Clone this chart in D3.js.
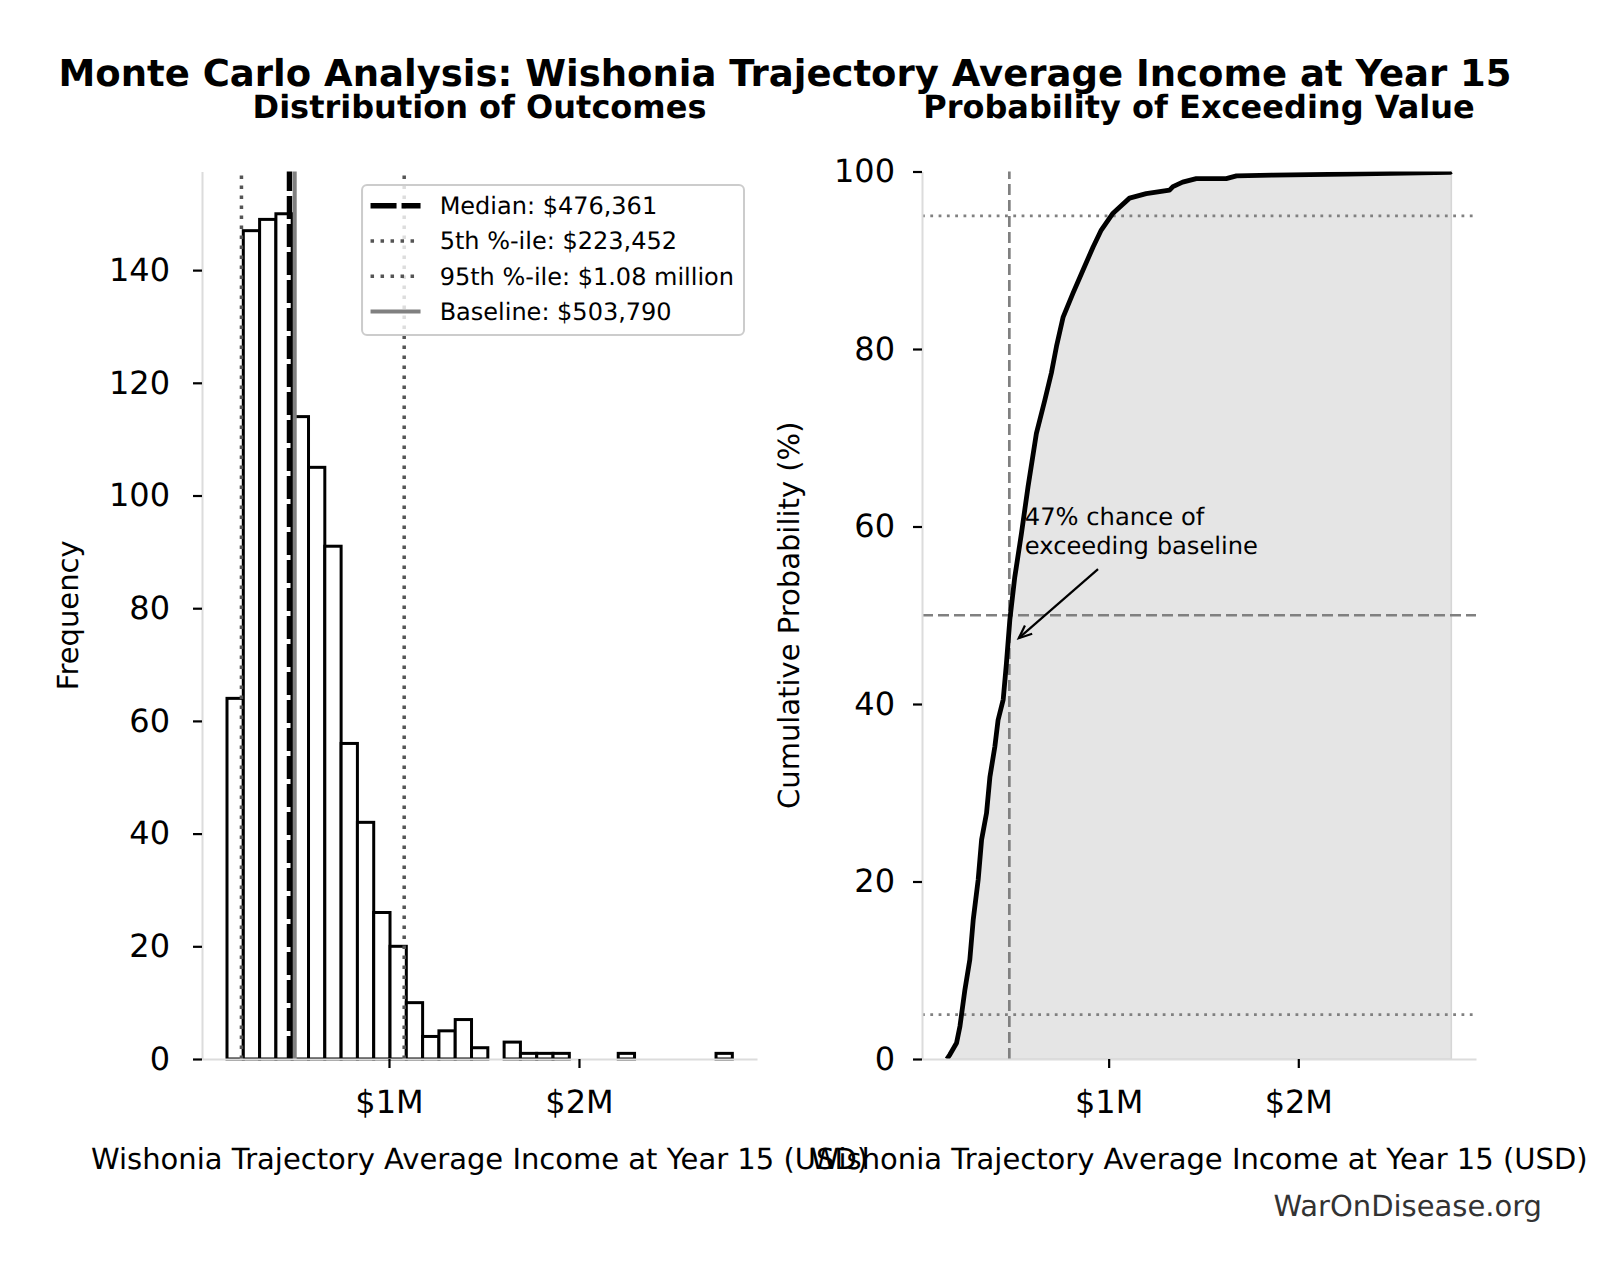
<!DOCTYPE html>
<html>
<head>
<meta charset="utf-8">
<script src="https://cdn.jsdelivr.net/npm/d3@7"></script>
<style>
	body { margin: 0; background: #fff; }
	text { font-family: 'DejaVu Sans', sans-serif; }
</style>
</head>
<body>
<div id="chart"></div>
<script>
// Histogram: equal-width bins (income in $ millions)
var binStart = 0.1474,
	binWidth = 0.0858;
var binCounts = [64, 147, 149, 150, 114, 105, 91, 56, 42, 26, 20, 10, 4, 5, 7, 2, 0, 3, 1, 1, 1, 0, 0, 0, 1, 0, 0, 0, 0, 0, 1];

// Reference values ($ millions)
var medianValue = 0.476361,
	p5Value = 0.223452,
	p95Value = 1.08,
	baselineValue = 0.503790;
var legendLabels = ['Median: $476,361', '5th %-ile: $223,452', '95th %-ile: $1.08 million', 'Baseline: $503,790'];

// Cumulative curve
var cdfIncome = [0.147, 0.163, 0.198, 0.216, 0.242, 0.268, 0.286, 0.312, 0.330, 0.356, 0.374, 0.400, 0.417, 0.444, 0.461, 0.479, 0.505, 0.540, 0.575, 0.619, 0.663, 0.698, 0.725, 0.760, 0.812, 0.865, 0.918, 0.961, 1.023, 1.110, 1.198, 1.321, 1.339, 1.390, 1.462, 1.620, 1.674, 1.867, 2.255, 2.800, 2.807];
var cdfPercent = [0, 0.5, 1.8, 3.7, 7.8, 11.2, 15.7, 20.2, 24.7, 27.7, 31.8, 35.2, 38.2, 40.5, 44.6, 49.5, 54.3, 59.2, 64.5, 70.5, 74.2, 77.3, 80.3, 83.6, 86.3, 88.9, 91.5, 93.4, 95.3, 97.0, 97.5, 97.9, 98.3, 98.8, 99.2, 99.2, 99.5, 99.6, 99.7, 99.9, 100];

// Ticks
var xTickValues = [1, 2],
	xTickLabels = ['$1M', '$2M'];
var freqTicks = [0, 20, 40, 60, 80, 100, 120, 140];
var probTicks = [0, 20, 40, 60, 80, 100];

// Annotation
var annotationLines = ['47% chance of', 'exceeding baseline'];
var annotationText = [0.558, 60.2],
	annotationTail = [0.944, 55.2],
	annotationHead = [baselineValue, 47];

var titleText = 'Monte Carlo Analysis: Wishonia Trajectory Average Income at Year 15',
	leftTitle = 'Distribution of Outcomes',
	rightTitle = 'Probability of Exceeding Value',
	xLabel = 'Wishonia Trajectory Average Income at Year 15 (USD)',
	footer = 'WarOnDisease.org';

var spineColor = '#dcdcdc',
	refGray = '#808080',
	dotGray = '#555555',
	fillGray = '#e5e5e5';

var W = 1601, H = 1280;
var plotTop = 171.5, plotBottom = 1059;
var xDomain = [0.0158, 2.937];

var svg = d3.select('#chart').append('svg')
	.attr('width', W)
	.attr('height', H)
	.attr('text-rendering', 'geometricPrecision');

svg.append('rect').attr('width', W).attr('height', H).attr('fill', '#fff');

// Titles
svg.append('text')
	.attr('x', 785).attr('y', 86)
	.attr('text-anchor', 'middle')
	.attr('font-size', '37px').attr('font-weight', 'bold')
	.text(titleText);

// ---------- left panel: histogram ----------
var xL = d3.scaleLinear().domain(xDomain).range([202, 757]);
var yL = d3.scaleLinear().domain([0, 157.5]).range([plotBottom, plotTop]);

function styleAxis(g) {
	g.select('.domain').attr('stroke', spineColor).attr('stroke-width', 2);
	g.selectAll('.tick line').attr('stroke', '#000').attr('stroke-width', 2.2);
	g.selectAll('.tick text').attr('fill', '#000').attr('font-size', '32px')
		.attr('font-family', "'DejaVu Sans', sans-serif");
}

function drawAxes(x, y, yTicks, panel, yPad) {
	var gx = panel.append('g')
		.attr('transform', 'translate(0,' + plotBottom + ')')
		.call(d3.axisBottom(x).tickValues(xTickValues).tickSize(9).tickSizeOuter(0).tickPadding(22)
			.tickFormat(function(d, i) { return xTickLabels[i]; }));
	styleAxis(gx);
	var gy = panel.append('g')
		.attr('transform', 'translate(' + x.range()[0] + ',0)')
		.call(d3.axisLeft(y).tickValues(yTicks).tickSize(9).tickSizeOuter(0).tickPadding(yPad)
			.tickFormat(d3.format('d')));
	styleAxis(gy);
}

var left = svg.append('g');
var bins = binCounts.map(function(c, i) {
	return {x0: binStart + i * binWidth, x1: binStart + (i + 1) * binWidth, count: c};
});
left.selectAll('rect.bar')
	.data(bins.filter(function(b) { return b.count > 0; }))
	.enter().append('rect')
	.attr('class', 'bar')
	.attr('x', function(d) { return xL(d.x0); })
	.attr('width', function(d) { return xL(d.x1) - xL(d.x0); })
	.attr('y', function(d) { return yL(d.count); })
	.attr('height', function(d) { return yL(0) - yL(d.count); })
	.attr('fill', '#fff')
	.attr('stroke', '#000')
	.attr('stroke-width', 3);

var refLines = [
	{v: medianValue, stroke: '#000', width: 5.5, dash: '23,5'},
	{v: p5Value, stroke: dotGray, width: 3.5, dash: '3.5,6.5'},
	{v: p95Value, stroke: dotGray, width: 3.5, dash: '3.5,6.5'},
	{v: baselineValue, stroke: refGray, width: 4, dash: null}
];
left.selectAll('line.ref')
	.data(refLines)
	.enter().append('line')
	.attr('class', 'ref')
	.attr('x1', function(d) { return xL(d.v); })
	.attr('x2', function(d) { return xL(d.v); })
	.attr('y1', yL(0)).attr('y2', yL(157.5))
	.attr('stroke', function(d) { return d.stroke; })
	.attr('stroke-width', function(d) { return d.width; })
	.attr('stroke-dasharray', function(d) { return d.dash; });

drawAxes(xL, yL, freqTicks, left, 23);

// Legend
var legend = left.append('g');
var legendBox = legend.append('rect')
	.attr('rx', 5)
	.attr('fill', '#fff').attr('fill-opacity', 0.8)
	.attr('stroke', '#cccccc').attr('stroke-width', 2);
var legendTexts = legend.selectAll('text')
	.data(legendLabels)
	.enter().append('text')
	.attr('x', 77.6)
	.attr('y', function(d, i) { return 20.7 + i * 35.3; })
	.attr('dy', '0.35em')
	.attr('font-size', '24px')
	.text(function(d) { return d; });
legend.selectAll('line')
	.data(refLines)
	.enter().append('line')
	.attr('x1', 8.5).attr('x2', 58.5)
	.attr('y1', function(d, i) { return 20.7 + i * 35.3; })
	.attr('y2', function(d, i) { return 20.7 + i * 35.3; })
	.attr('stroke', function(d) { return d.stroke; })
	.attr('stroke-width', function(d) { return d.width; })
	.attr('stroke-dasharray', function(d, i) { return i === 0 ? '26,5' : d.dash; });
var maxW = 0;
legendTexts.each(function() { maxW = Math.max(maxW, this.getComputedTextLength()); });
var boxW = 77.6 + maxW + 10, boxH = 150;
legendBox.attr('width', boxW).attr('height', boxH);
legend.attr('transform', 'translate(' + (xL.range()[1] - 13 - boxW) + ',' + (plotTop + 13.5) + ')');

left.append('text')
	.attr('x', (xL.range()[0] + xL.range()[1]) / 2).attr('y', 118)
	.attr('text-anchor', 'middle').attr('font-size', '32px').attr('font-weight', 'bold')
	.text(leftTitle);
left.append('text')
	.attr('x', (xL.range()[0] + xL.range()[1]) / 2).attr('y', 1169)
	.attr('text-anchor', 'middle').attr('font-size', '29px')
	.text(xLabel);
left.append('text')
	.attr('transform', 'translate(78,' + (plotTop + plotBottom) / 2 + ') rotate(-90)')
	.attr('text-anchor', 'middle').attr('font-size', '29px')
	.text('Frequency');

// ---------- right panel: cumulative probability ----------
var xR = d3.scaleLinear().domain(xDomain).range([922, 1476]);
var yR = d3.scaleLinear().domain([0, 100]).range([plotBottom, plotTop]);
var right = svg.append('g');
var cdf = cdfIncome.map(function(v, i) { return [v, cdfPercent[i]]; });

svg.append('clipPath').attr('id', 'clipR')
	.append('rect')
	.attr('x', xR.range()[0]).attr('y', plotTop)
	.attr('width', xR.range()[1] - xR.range()[0]).attr('height', plotBottom - plotTop);

right.append('path')
	.datum(cdf)
	.attr('d', d3.area().x(function(d) { return xR(d[0]); }).y0(yR(0)).y1(function(d) { return yR(d[1]); }))
	.attr('fill', fillGray)
	.attr('stroke', '#d6d6d6')
	.attr('stroke-width', 1.5);

var hLines = [
	{v: 50, dash: '11,5'},
	{v: 95, dash: '2.8,5.5'},
	{v: 5, dash: '2.8,5.5'}
];
right.selectAll('line.h')
	.data(hLines)
	.enter().append('line')
	.attr('class', 'h')
	.attr('x1', xR.range()[0]).attr('x2', xR.range()[1])
	.attr('y1', function(d) { return yR(d.v); })
	.attr('y2', function(d) { return yR(d.v); })
	.attr('stroke', refGray).attr('stroke-width', 2.7)
	.attr('stroke-dasharray', function(d) { return d.dash; });
right.append('line')
	.attr('x1', xR(medianValue)).attr('x2', xR(medianValue))
	.attr('y1', yR(0)).attr('y2', yR(100))
	.attr('stroke', refGray).attr('stroke-width', 2.7)
	.attr('stroke-dasharray', '11,5');

right.append('path')
	.datum(cdf)
	.attr('clip-path', 'url(#clipR)')
	.attr('d', d3.line().x(function(d) { return xR(d[0]); }).y(function(d) { return yR(d[1]); }))
	.attr('fill', 'none')
	.attr('stroke', '#000')
	.attr('stroke-width', 4.8)
	.attr('stroke-linejoin', 'round');

drawAxes(xR, yR, probTicks, right, 18);

// annotation
var ann = right.append('text')
	.attr('x', xR(annotationText[0]))
	.attr('y', yR(annotationText[1]))
	.attr('font-size', '24.2px');
ann.selectAll('tspan')
	.data(annotationLines)
	.enter().append('tspan')
	.attr('x', xR(annotationText[0]))
	.attr('dy', function(d, i) { return i === 0 ? 0 : 29.5; })
	.text(function(d) { return d; });

var ax = xR(annotationTail[0]), ay = yR(annotationTail[1]);
var hx = xR(annotationHead[0]), hy = yR(annotationHead[1]);
var ang = Math.atan2(hy - ay, hx - ax);
hx -= 5.6 * Math.cos(ang);
hy -= 5.6 * Math.sin(ang);
right.append('line')
	.attr('x1', ax).attr('y1', ay).attr('x2', hx).attr('y2', hy)
	.attr('stroke', '#000').attr('stroke-width', 2.2);
var headLen = 13, headHalf = 5.5;
var bx = hx - headLen * Math.cos(ang), by = hy - headLen * Math.sin(ang);
right.append('path')
	.attr('d', 'M' + (bx + headHalf * Math.sin(ang)) + ',' + (by - headHalf * Math.cos(ang)) +
		'L' + hx + ',' + hy +
		'L' + (bx - headHalf * Math.sin(ang)) + ',' + (by + headHalf * Math.cos(ang)))
	.attr('fill', 'none').attr('stroke', '#000').attr('stroke-width', 2.2);

right.append('text')
	.attr('x', (xR.range()[0] + xR.range()[1]) / 2).attr('y', 118)
	.attr('text-anchor', 'middle').attr('font-size', '32px').attr('font-weight', 'bold')
	.text(rightTitle);
right.append('text')
	.attr('x', (xR.range()[0] + xR.range()[1]) / 2).attr('y', 1169)
	.attr('text-anchor', 'middle').attr('font-size', '29px')
	.text(xLabel);
right.append('text')
	.attr('transform', 'translate(799,' + (plotTop + plotBottom) / 2 + ') rotate(-90)')
	.attr('text-anchor', 'middle').attr('font-size', '29px')
	.text('Cumulative Probability (%)');

svg.append('text')
	.attr('x', 1542).attr('y', 1216)
	.attr('text-anchor', 'end')
	.attr('font-size', '29px')
	.attr('fill', '#333')
	.text(footer);
</script>
</body>
</html>
